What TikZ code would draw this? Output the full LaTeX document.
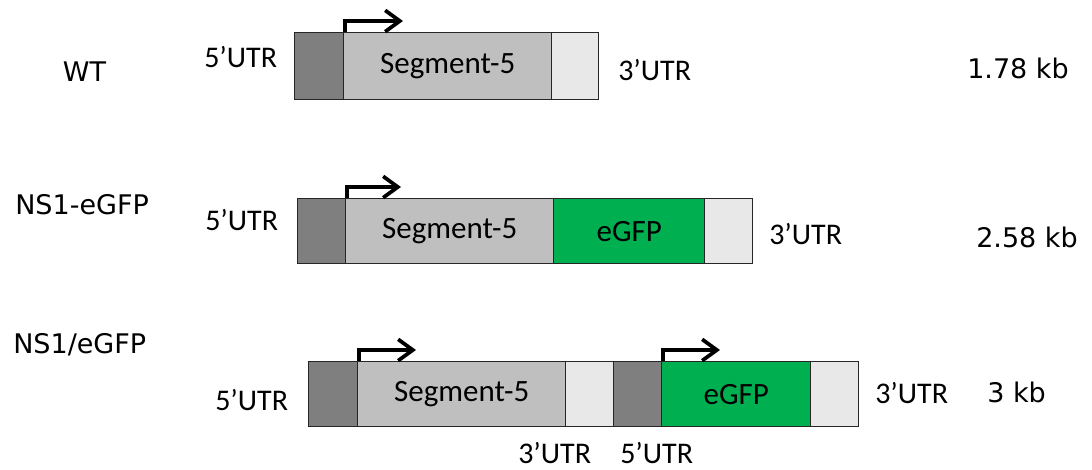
\documentclass[tikz,border=0pt]{standalone}
\usepackage{fontspec}
\setmainfont{Carlito}
\newfontfamily\labelfont{DejaVu Sans}
\usetikzlibrary{arrows.meta}
\definecolor{utrfive}{HTML}{7F7F7F}
\definecolor{segfill}{HTML}{BFBFBF}
\definecolor{utrthree}{HTML}{E8E8E8}
\definecolor{gfpgreen}{HTML}{00B050}
\begin{document}
\begin{tikzpicture}[x=0.75pt,y=-0.75pt,
  part/.style 2 args={draw=black!85, line width=1.1pt, inner sep=0pt, anchor=north west,
    minimum width={#1*0.75pt}, minimum height={#2*0.75pt},
    font=\fontsize{23.25pt}{26pt}\selectfont},
  five/.style={fill=utrfive},
  seg/.style={fill=segfill},
  three/.style={fill=utrthree},
  gfp/.style={fill=gfpgreen},
  utr/.style={anchor=west, inner sep=0pt, font=\fontsize{22.5pt}{25pt}\selectfont},
  side/.style={anchor=west, inner sep=0pt, font=\labelfont\fontsize{20.25pt}{24pt}\selectfont},
  tss/.style={line width=2.8pt, line join=miter, -{Straight Barb[length=11pt,width=16pt]}}
]
\useasboundingbox (0,0) rectangle (1092,469);

% --- WT construct ---
\node[part={49}{67}, five]  (a5) at (294,32) {};
\node[part={208}{67}, seg]  (as) at (343,32) {Segment-5};
\node[part={47}{67}, three] (a3) at (551,32) {};
\coordinate (atss) at ([xshift=1.5pt]as.north west);
\draw[tss] (atss) -- ++(0,-11) -- ++(58,0);
\node[side, anchor=center] (wt) at (84.5,72) {WT};
\node[utr] (a5l) at (204,57) {5’UTR};
\node[utr] (a3l) at (618,70) {3’UTR};
\node[side] (akb) at (967,68) {1.78 kb};

% --- NS1-eGFP fusion ---
\node[part={48}{65}, five]  (b5) at (297,198) {};
\node[part={208}{65}, seg]  (bs) at (345,198) {Segment-5};
\node[part={151}{65}, gfp]  (bg) at (553,198) {eGFP};
\node[part={48}{65}, three] (b3) at (704,198) {};
\coordinate (btss) at ([xshift=1.5pt]bs.north west);
\draw[tss] (btss) -- ++(0,-11) -- ++(54,0);
\node[side] (bname) at (15,205) {NS1-eGFP};
\node[utr] (b5l) at (205,220) {5’UTR};
\node[utr] (b3l) at (769,234) {3’UTR};
\node[side] (bkb) at (976,237) {2.58 kb};

% --- NS1/eGFP two-cassette construct ---
\node[part={49}{65}, five]  (c5) at (308,361) {};
\node[part={208}{65}, seg]  (cs) at (357,361) {Segment-5};
\node[part={48}{65}, three] (c3) at (565,361) {};
\node[part={48}{65}, five]  (d5) at (613,361) {};
\node[part={149}{65}, gfp]  (dg) at (661,361) {eGFP};
\node[part={48}{65}, three] (d3) at (810,361) {};
\coordinate (ctss) at ([xshift=1.5pt]cs.north west);
\draw[tss] (ctss) -- ++(0,-11) -- ++(57,0);
\coordinate (dtss) at ([xshift=1.5pt]dg.north west);
\draw[tss] (dtss) -- ++(0,-11) -- ++(57,0);
\node[side] (cname) at (13,345) {NS1/eGFP};
\node[utr] (c5l) at (215,400) {5’UTR};
\node[utr] (c3l) at (518,453) {3’UTR};
\node[utr] (d5l) at (620,453) {5’UTR};
\node[utr] (d3l) at (875,393) {3’UTR};
\node[side] (ckb) at (987,392) {3 kb};
\end{tikzpicture}
\end{document}
